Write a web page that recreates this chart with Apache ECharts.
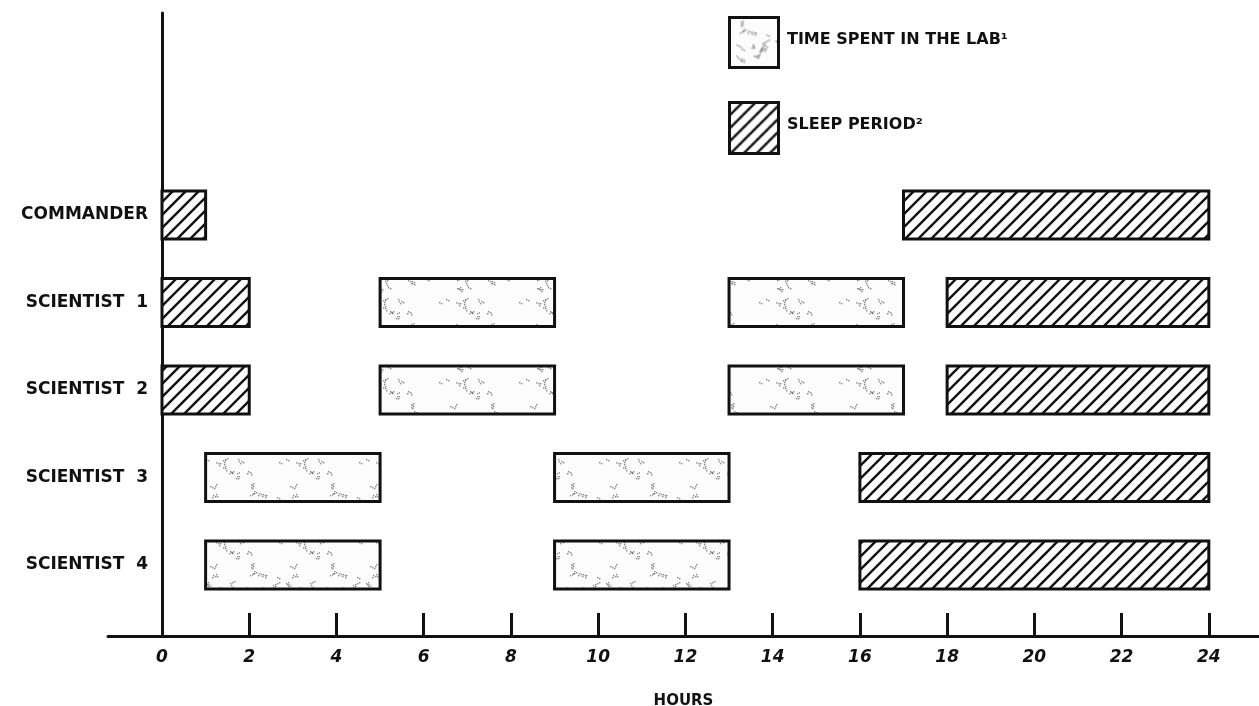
<!DOCTYPE html>
<html>
<head>
<meta charset="utf-8">
<script src="https://cdn.jsdelivr.net/npm/echarts@6/dist/echarts.min.js"></script>
<style>
html,body{margin:0;padding:0;background:#fff;}
#chart{width:1259px;height:706px;}
</style>
</head>
<body>
<div id="chart"></div>
<script>
// ---- data ----
const categories = ['COMMANDER', 'SCIENTIST  1', 'SCIENTIST  2', 'SCIENTIST  3', 'SCIENTIST  4'];
// [rowIndex, startHour, endHour]
const labPeriods = [
  [1, 5, 9], [1, 13, 17],
  [2, 5, 9], [2, 13, 17],
  [3, 1, 5], [3, 9, 13],
  [4, 1, 5], [4, 9, 13]
];
const sleepPeriods = [
  [0, 0, 1], [0, 17, 24],
  [1, 0, 2], [1, 18, 24],
  [2, 0, 2], [2, 18, 24],
  [3, 16, 24],
  [4, 16, 24]
];
const tickLabelValues = [0, 2, 4, 6, 8, 10, 12, 14, 16, 18, 20, 22, 24];
const tickMarkValues = [2, 4, 6, 8, 10, 12, 14, 16, 18, 20, 22, 24];
const legendLab = 'TIME SPENT IN THE LAB\u00B9';
const legendSleep = 'SLEEP PERIOD\u00B2';
const axisTitle = 'HOURS';

// ---- textures (style only) ----
function hatchPattern() {
  const s = 13;
  const c = document.createElement('canvas');
  c.width = s; c.height = s;
  const g = c.getContext('2d');
  g.fillStyle = '#fff'; g.fillRect(0, 0, s, s);
  g.strokeStyle = '#111'; g.lineWidth = 2.4; g.lineCap = 'square';
  g.beginPath();
  g.moveTo(0, s); g.lineTo(s, 0);
  g.moveTo(-1, 1); g.lineTo(1, -1);
  g.moveTo(s - 1, s + 1); g.lineTo(s + 1, s - 1);
  g.stroke();
  return { image: c, repeat: 'repeat' };
}
function stipplePattern() {
  const s = 80;
  const c = document.createElement('canvas');
  c.width = s; c.height = s;
  const g = c.getContext('2d');
  g.fillStyle = '#fcfcfc'; g.fillRect(0, 0, s, s);
  g.fillStyle = '#8a8a8a';
  let h = 4321;
  function nx() { h = (h * 16807) % 2147483647; return h; }
  for (let i = 0; i < 30; i++) {
    let x = nx() % s, y = nx() % s;
    const len = 2 + (nx() % 7);
    for (let k = 0; k < len; k++) {
      g.fillRect(((x % s) + s) % s, ((y % s) + s) % s, 1.4, 1.4);
      const d = nx() % 4;
      x += d === 0 ? 2 : d === 1 ? -2 : 1;
      y += d === 2 ? 2 : d === 3 ? -2 : 1;
    }
  }
  return { image: c, repeat: 'repeat' };
}
const hatch = hatchPattern();
const stipple = stipplePattern();

function makeRender(fill) {
  return function (params, api) {
    const row = api.value(0);
    const p0 = api.coord([api.value(1), row]);
    const p1 = api.coord([api.value(2), row]);
    const h = 48;
    return {
      type: 'rect',
      shape: { x: p0[0], y: p0[1] - h / 2, width: p1[0] - p0[0], height: h },
      style: { fill: fill, stroke: '#111', lineWidth: 3 }
    };
  };
}

const FONT = 'DejaVu Sans';
const chart = echarts.init(document.getElementById('chart'), null, { renderer: 'canvas' });
chart.setOption({
  animation: false,
  backgroundColor: '#fff',
  grid: { left: 108, right: 0, top: 13, bottom: 70, containLabel: false, outerBoundsMode: 'none' },
  xAxis: {
    type: 'value',
    min: -1.238,
    max: 25.15,
    axisLine: { onZero: false, lineStyle: { color: '#111', width: 3 } },
    axisTick: { show: true, inside: true, length: 23, customValues: tickMarkValues, lineStyle: { color: '#111', width: 3 } },
    axisLabel: {
      customValues: tickLabelValues,
      formatter: v => String(v),
      fontFamily: FONT, fontStyle: 'italic', fontWeight: 'bold', fontSize: 17,
      color: '#111', margin: 13
    },
    splitLine: { show: false },
    name: axisTitle,
    nameLocation: 'middle',
    nameGap: 58,
    nameTextStyle: { fontFamily: FONT, fontWeight: 'bold', fontSize: 15, color: '#111' }
  },
  yAxis: {
    type: 'value',
    inverse: true,
    min: -2.309,
    max: 4.811,
    axisLine: { show: true, onZero: true, lineStyle: { color: '#111', width: 3 } },
    axisTick: { show: false },
    splitLine: { show: false },
    axisLabel: {
      customValues: [0, 1, 2, 3, 4],
      formatter: v => categories[Math.round(v)],
      fontFamily: FONT, fontWeight: 'bold', fontSize: 17, color: '#111', margin: -40, align: 'right'
    }
  },
  series: [
    {
      name: legendLab, type: 'custom', renderItem: makeRender(stipple),
      encode: { x: [1, 2], y: 0 }, data: labPeriods
    },
    {
      name: legendSleep, type: 'custom', renderItem: makeRender(hatch),
      encode: { x: [1, 2], y: 0 }, data: sleepPeriods
    }
  ],
  graphic: [
    { type: 'rect', left: 728, top: 16, shape: { width: 49, height: 50 }, style: { fill: stipple, stroke: '#111', lineWidth: 3 } },
    { type: 'text', left: 787, top: 32, style: { text: legendLab, fontFamily: FONT, fontWeight: 'bold', fontSize: 16, fill: '#111' } },
    { type: 'rect', left: 728, top: 101, shape: { width: 49, height: 51 }, style: { fill: hatch, stroke: '#111', lineWidth: 3 } },
    { type: 'text', left: 787, top: 117, style: { text: legendSleep, fontFamily: FONT, fontWeight: 'bold', fontSize: 16, fill: '#111' } }
  ]
});
</script>
</body>
</html>
